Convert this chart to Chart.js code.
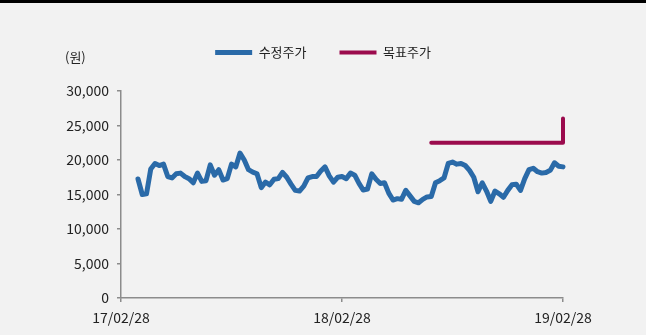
<!DOCTYPE html>
<html>
<head>
<meta charset="utf-8">
<script src="https://cdn.jsdelivr.net/npm/chart.js@4"></script>
<style>
  html, body { margin: 0; padding: 0; background: #f2f2f2; }
  .wrap { width: 646px; height: 332px; border-top: 3px solid #000; background: #f2f2f2; }
</style>
</head>
<body>
<div class="wrap"><canvas id="priceChart" width="646" height="332"></canvas></div>
<script>
// weekly points, week 0 = 17/02/28, week 104 = 19/02/28
const weeks = [];
for (let w = 4; w <= 104; w++) weeks.push(w);

const adjPrice = [
  17250, 15000, 15100, 18700, 19500, 19200, 19400, 17600, 17400, 18000,
  18100, 17600, 17300, 16700, 18100, 16900, 17000, 19300, 17800, 18600,
  17100, 17300, 19400, 19000, 21000, 20000, 18600, 18250, 18000, 16000,
  16800, 16400, 17200, 17300, 18200, 17500, 16500, 15600, 15500, 16200,
  17400, 17600, 17600, 18400, 19000, 17700, 16800, 17500, 17600, 17300,
  18100, 17800, 16600, 15650, 15800, 18000, 17200, 16600, 16700, 15200,
  14200, 14400, 14300, 15600, 14800, 14000, 13800, 14300, 14650, 14700,
  16700, 17000, 17400, 19500, 19700, 19400, 19500, 19200, 18500, 17500,
  15400, 16700, 15500, 14000, 15500, 15100, 14600, 15600, 16400, 16500,
  15600, 17300, 18600, 18800, 18300, 18100, 18200, 18500, 19600, 19100,
  19000
];

// target price changes (stepped)
const targetWeeks = [73, 104];
const targetPrice = [22500, 26000];

const xTickWeeks = [0, 52, 104];
const xTickLabels = ['17/02/28', '18/02/28', '19/02/28'];

const FONT = '"Noto Sans CJK KR", "Noto Sans", sans-serif';

const unitLabel = {
  id: 'unitLabel',
  beforeInit(chart) {
    const fit = chart.legend.fit;
    chart.legend.fit = function () {
      fit.call(this);
      this.height += 22;
    };
  },
  afterDraw(chart) {
    const ctx = chart.ctx;
    ctx.save();
    ctx.font = '13px ' + FONT;
    ctx.fillStyle = '#222';
    ctx.textBaseline = 'middle';
    ctx.fillText('(원)', chart.scales.y.right - 56, chart.chartArea.top - 34);
    ctx.restore();
  }
};

new Chart(document.getElementById('priceChart'), {
  type: 'line',
  data: {
    datasets: [
      {
        label: '수정주가',
        data: weeks.map((w, i) => ({ x: w, y: adjPrice[i] })),
        borderColor: '#2a6aa8',
        backgroundColor: '#2a6aa8',
        borderWidth: 5,
        borderCapStyle: 'round',
        borderJoinStyle: 'round',
        pointRadius: 0,
        tension: 0,
        clip: false
      },
      {
        label: '목표주가',
        data: targetWeeks.map((w, i) => ({ x: w, y: targetPrice[i] })),
        borderColor: '#9b0b4d',
        backgroundColor: '#9b0b4d',
        borderWidth: 4,
        borderCapStyle: 'round',
        borderJoinStyle: 'round',
        pointRadius: 0,
        stepped: true,
        clip: false
      }
    ]
  },
  options: {
    responsive: false,
    animation: false,
    layout: { padding: { top: 10, left: 0, right: 0, bottom: 0 } },
    plugins: {
      tooltip: { enabled: false },
      legend: {
        position: 'top',
        labels: {
          usePointStyle: true,
          pointStyle: 'line',
          pointStyleWidth: 37,
          padding: 33,
          color: '#222',
          font: { family: FONT, size: 13 }
        }
      }
    },
    scales: {
      x: {
        type: 'linear',
        min: 0,
        max: 104,
        afterBuildTicks: s => { s.ticks = xTickWeeks.map(v => ({ value: v })); },
        ticks: {
          padding: 7,
          color: '#222',
          font: { family: FONT, size: 14 },
          maxRotation: 0,
          callback: v => xTickLabels[xTickWeeks.indexOf(v)]
        },
        grid: { drawOnChartArea: false, tickLength: 4, color: '#8c8c8c', lineWidth: 1.5 },
        border: { color: '#8c8c8c', width: 1.5 },
        afterFit: s => { s.height = 37; }
      },
      y: {
        min: 0,
        max: 30000,
        ticks: {
          stepSize: 5000,
          padding: 8,
          color: '#222',
          font: { family: FONT, size: 14 },
          callback: v => v.toLocaleString('en-US')
        },
        grid: { drawOnChartArea: false, tickLength: 4, color: '#8c8c8c', lineWidth: 1.5 },
        border: { color: '#8c8c8c', width: 1.5 },
        afterFit: s => { s.width = 121; }
      },
      yPad: {
        position: 'right',
        grid: { display: false },
        border: { display: false },
        ticks: { display: false },
        afterFit: s => { s.width = 83; }
      }
    }
  },
  plugins: [unitLabel]
});
</script>
</body>
</html>
